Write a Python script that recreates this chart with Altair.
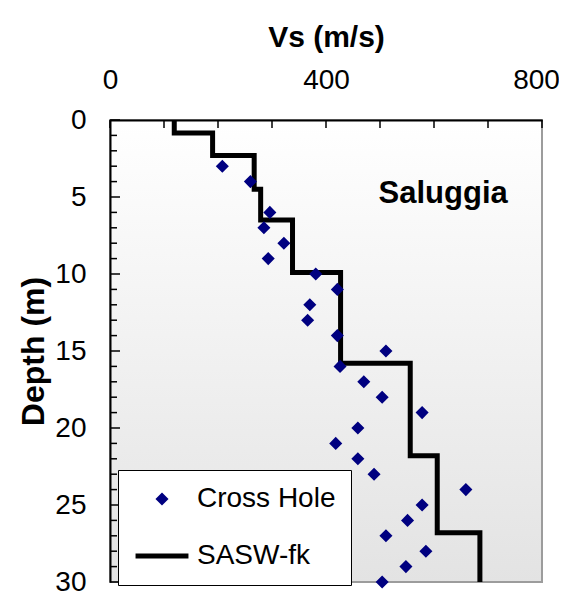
import altair as alt
import pandas as pd

# ---------------- data ----------------
VS_DOMAIN = [0, 800]
DEPTH_DOMAIN = [0, 30]

# Cross Hole measurements
ch_depth = [3, 4, 6, 7, 8, 9, 10, 11, 12, 13, 14, 15, 16, 17, 18, 19, 20,
            21, 22, 23, 24, 25, 26, 27, 28, 29, 30]
ch_vs = [208, 260, 296, 285, 322, 293, 381, 421, 370, 366, 421, 511, 426,
         470, 504, 578, 459, 418, 459, 489, 659, 578, 551, 511, 585, 548, 504]

# SASW-fk layered profile (top of each layer, velocity of the layer)
sasw_depth = [0, 0.85, 2.3, 4.5, 6.5, 9.9, 15.8, 21.8, 26.8, 30]
sasw_vs = [119, 190, 267, 279, 338, 427, 556, 606, 685, 685]

series_names = ["Cross Hole", "SASW-fk"]

x_ticks = [0, 100, 200, 300, 400, 500, 600, 700, 800]
x_labels = [0, 400, 800]
y_labels = [0, 5, 10, 15, 20, 25, 30]
y_minor = [d for d in range(1, 30) if d % 5 != 0]

site_label = ["Saluggia"]
site_vs = [617]
site_depth = [5.41]

# ---------------- frames ----------------
pts = pd.DataFrame({"vs": ch_vs, "depth": ch_depth, "series": "Cross Hole"})
sasw = pd.DataFrame({"vs": sasw_vs, "depth": sasw_depth, "series": "SASW-fk"})
bg = pd.DataFrame({"vs": [VS_DOMAIN[0]], "vs2": [VS_DOMAIN[1]],
                   "depth": [DEPTH_DOMAIN[0]], "depth2": [DEPTH_DOMAIN[1]]})
xt = pd.DataFrame({"vs": x_ticks})
ytm = pd.DataFrame({"depth": y_minor})
ytM = pd.DataFrame({"depth": y_labels})
site = pd.DataFrame({"vs": site_vs, "depth": site_depth, "t": site_label})

FONT = "Liberation Sans"

xscale = alt.Scale(domain=VS_DOMAIN, nice=False, zero=False)
yscale = alt.Scale(domain=DEPTH_DOMAIN, nice=False, zero=False, reverse=True)

x_axis = alt.Axis(orient="top", title="Vs (m/s)", values=x_labels, tickSize=0,
                  grid=False, domainColor="black", domainWidth=2,
                  labelFontSize=28, labelPadding=26, labelFlush=False,
                  labelOverlap=False, titleFontSize=30, titleFontWeight="bold",
                  titlePadding=14, zindex=1,
                  labelOffset={"condition": {"test": "datum.value === 800",
                                             "value": -6}, "value": 0})
y_axis = alt.Axis(title="Depth (m)", values=y_labels, tickSize=0, grid=False,
                  domainColor="black", domainWidth=2, labelFontSize=28,
                  labelPadding=24, labelFlush=False, labelOverlap=False,
                  titleFontSize=32, titleFontWeight="bold", titlePadding=4,
                  zindex=1)

gradient = {
    "gradient": "linear", "x1": 0, "y1": 0, "x2": 0, "y2": 1,
    "stops": [{"offset": 0, "color": "#ffffff"},
              {"offset": 1, "color": "#e3e3e3"}],
}

background = alt.Chart(bg).mark_rect(
    color=gradient, stroke="#9c9c9c", strokeWidth=2
).encode(
    x=alt.X("vs:Q", scale=xscale, axis=x_axis),
    x2="vs2:Q",
    y=alt.Y("depth:Q", scale=yscale, axis=y_axis),
    y2="depth2:Q",
)

xtick_layer = alt.Chart(xt).mark_rule(color="black", strokeWidth=1.5).encode(
    x="vs:Q", y=alt.value(0), y2=alt.value(8)
)
ytick_minor = alt.Chart(ytm).mark_rule(color="black", strokeWidth=1.5).encode(
    y="depth:Q", x=alt.value(0), x2=alt.value(7)
)
ytick_major = alt.Chart(ytM).mark_rule(color="black", strokeWidth=1.5).encode(
    y="depth:Q", x=alt.value(0), x2=alt.value(10)
)

line = alt.Chart(sasw).mark_line(
    color="black", strokeWidth=5, interpolate="step-before", strokeJoin="miter"
).encode(
    x="vs:Q", y="depth:Q", order=alt.Order("depth:Q")
)

legend = alt.Legend(
    title=None, orient="none", legendX=8, legendY=350,
    fillColor="white", strokeColor="black", padding=15,
    labelFontSize=28, labelFont=FONT, labelColor="black",
    symbolStrokeWidth=5, rowPadding=14, labelOffset=6,
)

points = alt.Chart(pts).mark_point(
    filled=False, fill="#000080", strokeWidth=5, opacity=1, strokeJoin="miter"
).encode(
    x="vs:Q",
    y="depth:Q",
    color=alt.Color("series:N", scale=alt.Scale(domain=series_names,
                    range=["#000080", "#000000"]), legend=legend),
    shape=alt.Shape("series:N", scale=alt.Scale(domain=series_names,
                    range=["diamond", "stroke"]), legend=legend),
    size=alt.Size("series:N", scale=alt.Scale(domain=series_names,
                  range=[36, 2800]), legend=legend),
)

site_text = alt.Chart(site).mark_text(
    font=FONT, fontSize=31, fontWeight="bold", color="black",
    align="center", baseline="alphabetic"
).encode(x="vs:Q", y="depth:Q", text="t:N")

chart = alt.layer(
    background, xtick_layer, ytick_minor, ytick_major, line, points, site_text
).properties(
    width=432, height=462, autosize="none",
    padding={"left": 102, "top": 112, "right": 17, "bottom": 13},
    background="white",
).configure_view(stroke=None).configure_axis(
    labelFont=FONT, titleFont=FONT, labelColor="black", titleColor="black"
)

chart.save("out.html", embed_options={"renderer": "svg", "actions": False})
